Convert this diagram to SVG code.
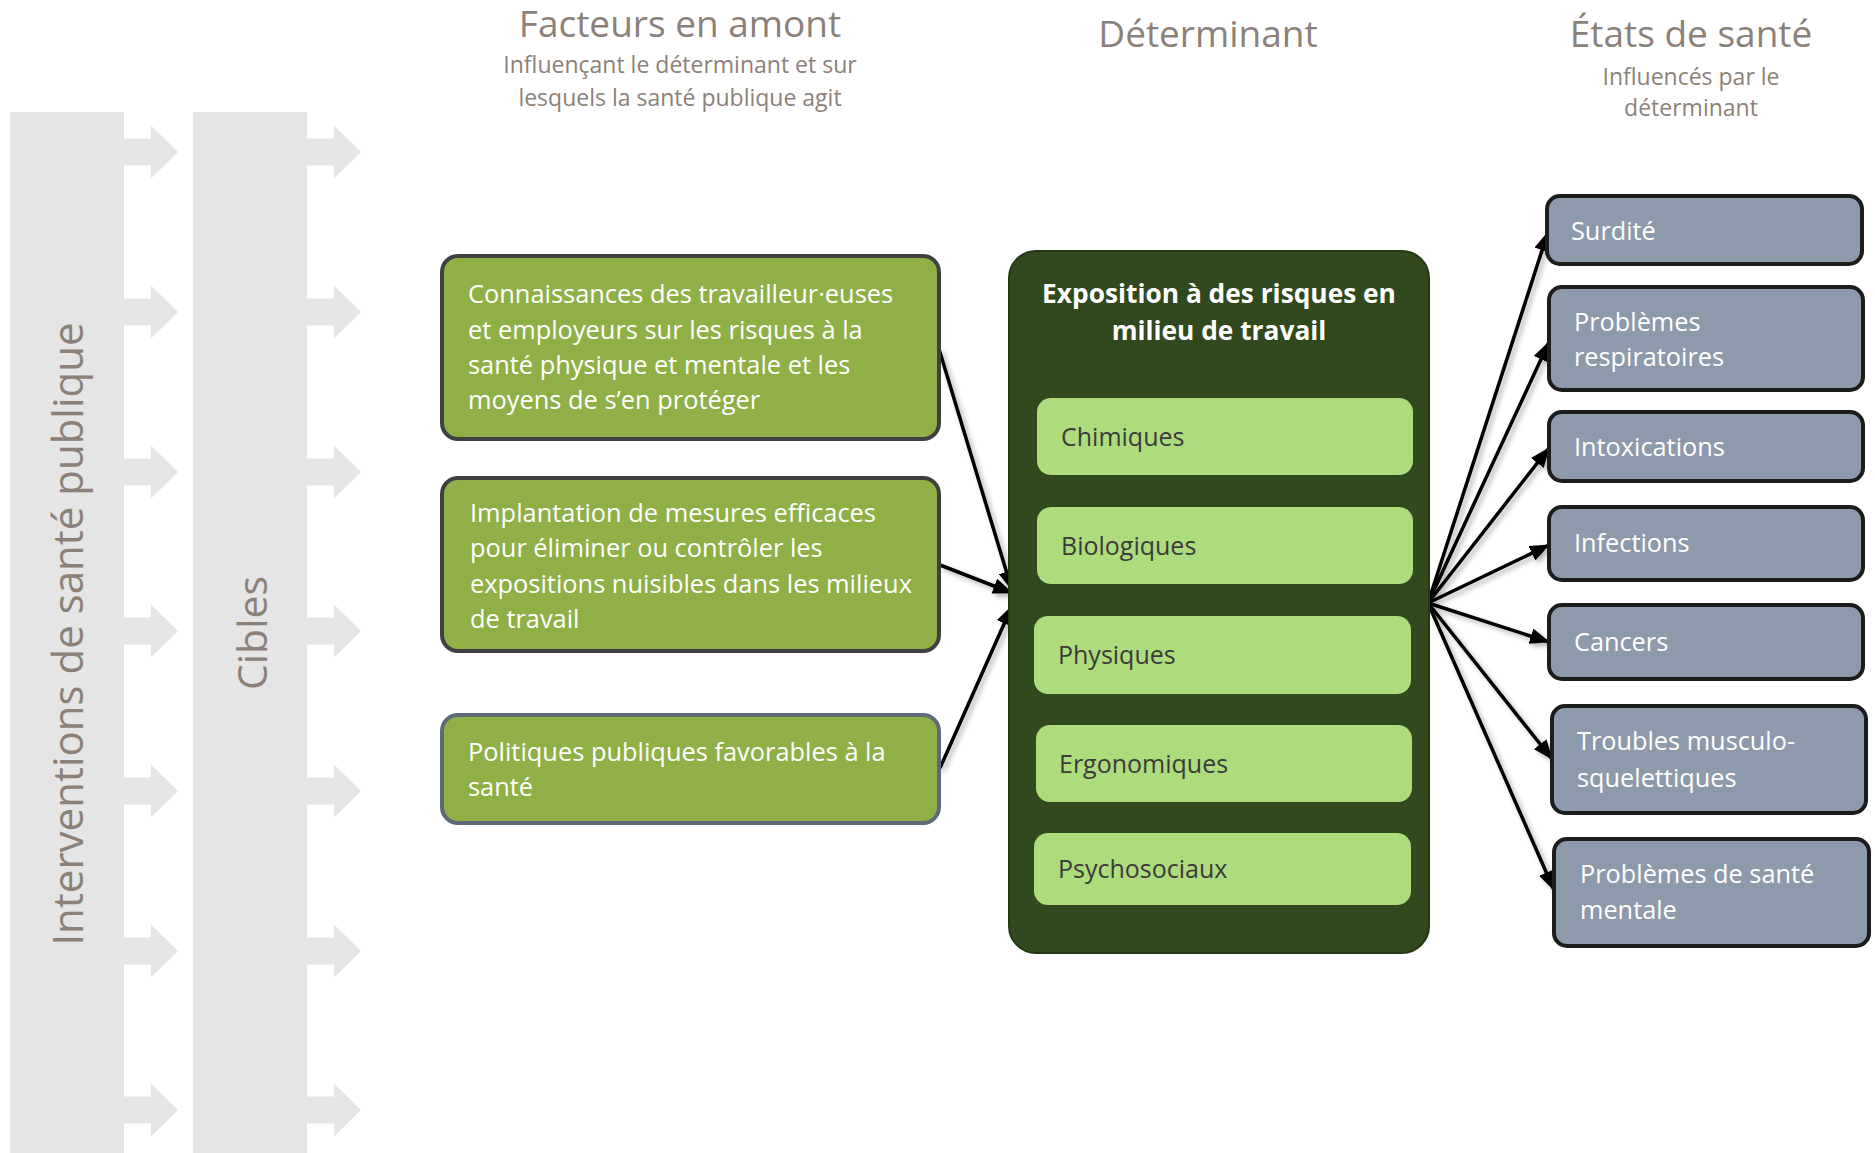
<svg xmlns="http://www.w3.org/2000/svg" width="1875" height="1153" viewBox="0 0 1875 1153">
<style>
.head{font-family:"Open Sans","Noto Sans",sans-serif;fill:#8b8179;text-anchor:middle}
.t1{font-size:37px}
.t2{font-size:23px}
.vert{font-family:"Open Sans","Noto Sans",sans-serif;fill:#8b8179;text-anchor:middle}
.bar{fill:#e5e5e5}
.gbox{fill:#8fb047;stroke:#404040;stroke-width:4}
.gtxt{font-family:"Open Sans","Noto Sans",sans-serif;font-size:25.4px;fill:#ffffff}
.dbox{fill:#30491f;stroke:#243816;stroke-width:2}
.ibox{fill:#aedb7c}
.itxt{font-family:"Open Sans","Noto Sans",sans-serif;font-size:25px;fill:#3b3b3b}
.ttl{font-family:"Open Sans","Noto Sans",sans-serif;font-size:26.3px;font-weight:bold;fill:#ffffff;text-anchor:middle}
.sbox{fill:#8d9aab;stroke:#1c1c1c;stroke-width:4}
.stxt{font-family:"Open Sans","Noto Sans",sans-serif;font-size:25.3px;fill:#ffffff}
.conn{stroke:#000;stroke-width:3.5;fill:none;marker-end:url(#ah)}
</style>
<defs>
<marker id="ah" markerUnits="userSpaceOnUse" markerWidth="20" markerHeight="16" refX="19" refY="8" orient="auto">
<path d="M0,0 L20,8 L0,16 z" fill="#000"/>
</marker>
<filter id="sh" x="-20%" y="-20%" width="140%" height="140%">
<feDropShadow dx="3" dy="3" stdDeviation="2.5" flood-color="#000" flood-opacity="0.3"/>
</filter>
<path id="garrow" d="M0,-13.5 L27,-13.5 L27,-26.5 L54,0 L27,26.5 L27,13.5 L0,13.5 z"/>
</defs>

<g id="background">
<rect class="bar" x="10" y="112" width="114" height="1041"/>
<rect class="bar" x="193" y="112" width="114" height="1041"/>
<g class="bar">
<use href="#garrow" x="124" y="152"/>
<use href="#garrow" x="124" y="312"/>
<use href="#garrow" x="124" y="472"/>
<use href="#garrow" x="124" y="631"/>
<use href="#garrow" x="124" y="791"/>
<use href="#garrow" x="124" y="951"/>
<use href="#garrow" x="124" y="1110"/>
<use href="#garrow" x="307" y="152"/>
<use href="#garrow" x="307" y="312"/>
<use href="#garrow" x="307" y="472"/>
<use href="#garrow" x="307" y="631"/>
<use href="#garrow" x="307" y="791"/>
<use href="#garrow" x="307" y="951"/>
<use href="#garrow" x="307" y="1110"/>
</g>
<text class="vert" font-size="42" transform="translate(83,634) rotate(-90)">Interventions de santé publique</text>
<text class="vert" font-size="41" transform="translate(267,633) rotate(-90)">Cibles</text>
</g>

<g id="headings">
<text class="head t1" x="680" y="37">Facteurs en amont</text>
<text class="head t2" x="680" y="73">Influençant le déterminant et sur</text>
<text class="head t2" x="680" y="106">lesquels la santé publique agit</text>
<text class="head t1" x="1208" y="47">Déterminant</text>
<text class="head t1" x="1691" y="47">États de santé</text>
<text class="head t2" x="1691" y="85">Influencés par le</text>
<text class="head t2" x="1691" y="116">déterminant</text>
</g>

<g id="connectors" filter="url(#sh)">
<line class="conn" x1="939" y1="349" x2="1012" y2="590"/>
<line class="conn" x1="940" y1="565" x2="1012" y2="593"/>
<line class="conn" x1="940" y1="768" x2="1012" y2="606"/>
<line class="conn" x1="1428" y1="603" x2="1548" y2="232"/>
<line class="conn" x1="1428" y1="603" x2="1549" y2="342"/>
<line class="conn" x1="1428" y1="603" x2="1549" y2="448"/>
<line class="conn" x1="1428" y1="603" x2="1549" y2="545"/>
<line class="conn" x1="1428" y1="603" x2="1549" y2="642"/>
<line class="conn" x1="1428" y1="603" x2="1552" y2="759"/>
<line class="conn" x1="1428" y1="603" x2="1554" y2="890"/>
</g>

<g id="upstream1">
<rect class="gbox" x="442" y="256" width="497" height="183" rx="16"/>
<text class="gtxt" x="468" y="303">Connaissances des travailleur·euses</text>
<text class="gtxt" x="468" y="339">et employeurs sur les risques à la</text>
<text class="gtxt" x="468" y="374">santé physique et mentale et les</text>
<text class="gtxt" x="468" y="409">moyens de s’en protéger</text>
</g>
<g id="upstream2">
<rect class="gbox" x="442" y="478" width="497" height="173" rx="16"/>
<text class="gtxt" x="470" y="522">Implantation de mesures efficaces</text>
<text class="gtxt" x="470" y="557">pour éliminer ou contrôler les</text>
<text class="gtxt" x="470" y="593">expositions nuisibles dans les milieux</text>
<text class="gtxt" x="470" y="628">de travail</text>
</g>
<g id="upstream3">
<rect class="gbox" x="442" y="715" width="497" height="108" rx="16" style="stroke:#5d6a78"/>
<text class="gtxt" x="468" y="761">Politiques publiques favorables à la</text>
<text class="gtxt" x="468" y="796">santé</text>
</g>

<g id="determinant">
<rect class="dbox" x="1009" y="251" width="420" height="702" rx="27"/>
<text class="ttl" x="1219" y="303">Exposition à des risques en</text>
<text class="ttl" x="1219" y="340">milieu de travail</text>
<g id="chimiques"><rect class="ibox" x="1037" y="398" width="376" height="77" rx="14"/><text class="itxt" x="1061" y="446">Chimiques</text></g>
<g id="biologiques"><rect class="ibox" x="1037" y="507" width="376" height="77" rx="14"/><text class="itxt" x="1061" y="555">Biologiques</text></g>
<g id="physiques"><rect class="ibox" x="1034" y="616" width="377" height="78" rx="14"/><text class="itxt" x="1058" y="664">Physiques</text></g>
<g id="ergonomiques"><rect class="ibox" x="1036" y="725" width="376" height="77" rx="14"/><text class="itxt" x="1059" y="773">Ergonomiques</text></g>
<g id="psychosociaux"><rect class="ibox" x="1034" y="833" width="377" height="72" rx="14"/><text class="itxt" x="1058" y="878">Psychosociaux</text></g>
</g>

<g id="surdite"><rect class="sbox" x="1547" y="196" width="315" height="68" rx="13"/><text class="stxt" x="1571" y="240">Surdité</text></g>
<g id="respiratoires"><rect class="sbox" x="1549" y="287" width="314" height="103" rx="13"/><text class="stxt" x="1574" y="331">Problèmes</text><text class="stxt" x="1574" y="366">respiratoires</text></g>
<g id="intoxications"><rect class="sbox" x="1549" y="412" width="314" height="69" rx="13"/><text class="stxt" x="1574" y="456">Intoxications</text></g>
<g id="infections"><rect class="sbox" x="1549" y="507" width="314" height="73" rx="13"/><text class="stxt" x="1574" y="552">Infections</text></g>
<g id="cancers"><rect class="sbox" x="1549" y="605" width="314" height="74" rx="13"/><text class="stxt" x="1574" y="651">Cancers</text></g>
<g id="troubles"><rect class="sbox" x="1552" y="706" width="314" height="107" rx="13"/><text class="stxt" x="1577" y="750">Troubles musculo-</text><text class="stxt" x="1577" y="787">squelettiques</text></g>
<g id="mentale"><rect class="sbox" x="1554" y="839" width="315" height="107" rx="13"/><text class="stxt" x="1580" y="883">Problèmes de santé</text><text class="stxt" x="1580" y="919">mentale</text></g>
</svg>
